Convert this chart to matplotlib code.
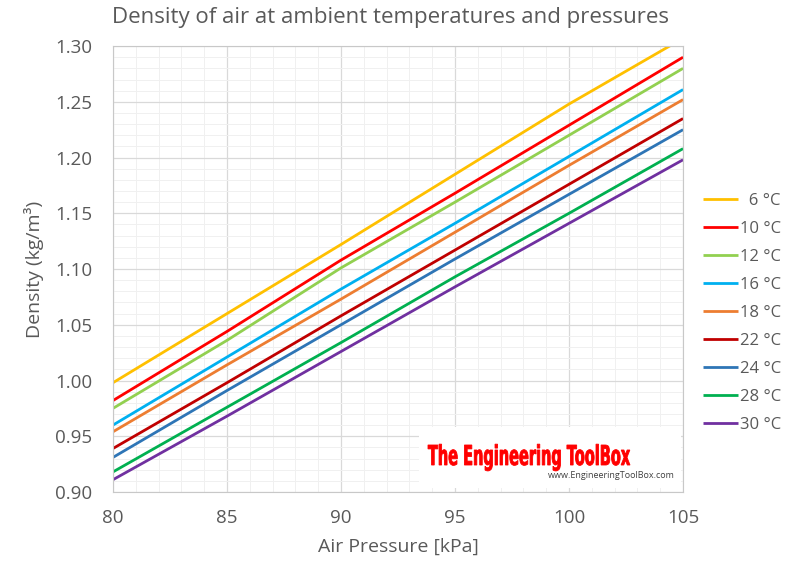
import numpy as np
import matplotlib.pyplot as plt
from matplotlib.ticker import MultipleLocator, FormatStrFormatter
from matplotlib.textpath import TextPath
from matplotlib.font_manager import FontProperties
from matplotlib.patches import PathPatch, Rectangle
from matplotlib.transforms import Affine2D, IdentityTransform

# air pressure [kPa]
pressure = [80, 85, 90, 95, 100, 105]

# density of air [kg/m3]
labels = ["  6 °C", "10 °C", "12 °C", "16 °C", "18 °C", "22 °C", "24 °C", "28 °C", "30 °C"]
d_6 = [0.998, 1.060, 1.122, 1.185, 1.248, 1.307]
d_10 = [0.982, 1.044, 1.108, 1.168, 1.229, 1.290]
d_12 = [0.975, 1.036, 1.101, 1.160, 1.220, 1.280]
d_16 = [0.960, 1.021, 1.082, 1.141, 1.201, 1.261]
d_18 = [0.954, 1.014, 1.073, 1.133, 1.193, 1.252]
d_22 = [0.939, 0.998, 1.058, 1.117, 1.176, 1.235]
d_24 = [0.931, 0.991, 1.050, 1.109, 1.167, 1.225]
d_28 = [0.918, 0.976, 1.034, 1.093, 1.150, 1.208]
d_30 = [0.911, 0.968, 1.026, 1.084, 1.141, 1.198]
series = [d_6, d_10, d_12, d_16, d_18, d_22, d_24, d_28, d_30]

colors = ["#FFC000", "#FF0000", "#92D050", "#00B0F0", "#ED7D31",
          "#C00000", "#2E75B6", "#00B050", "#7030A0"]

txt = "#595959"
plt.rcParams['font.family'] = ['Open Sans', 'DejaVu Sans']

W, H = 790, 562
fig = plt.figure(figsize=(W / 100, H / 100), dpi=100)
ax = fig.add_axes([0.143, 0.1246, 0.7216, 0.7934])

for s, c, l in zip(series, colors, labels):
    ax.plot(pressure, s, color=c, lw=2, label=l, solid_capstyle='butt')

ax.set_xlim(80, 105)
ax.set_ylim(0.90, 1.30)
ax.xaxis.set_major_locator(MultipleLocator(5))
ax.xaxis.set_minor_locator(MultipleLocator(1))
ax.yaxis.set_major_locator(MultipleLocator(0.05))
ax.yaxis.set_minor_locator(MultipleLocator(0.01))
ax.yaxis.set_major_formatter(FormatStrFormatter('%.2f'))
ax.grid(which='major', color='#D9D9D9', lw=0.9)
ax.grid(which='minor', color='#F0F0F0', lw=0.7)
ax.set_axisbelow(True)
ax.tick_params(which='both', length=0, labelsize=13.5, colors=txt)
ax.tick_params(axis='y', pad=15)
ax.tick_params(axis='x', pad=12)
for sp in ax.spines.values():
    sp.set_color('#C8C8C8')

ax.set_xlabel("Air Pressure [kPa]", fontsize=14, color=txt, labelpad=8)
ax.set_ylabel("Density (kg/m³)", fontsize=14, color=txt, labelpad=8)
fig.text(0.494, 0.968, "Density of air at ambient temperatures and pressures",
         ha='center', va='center', fontsize=16, color=txt)

fig.legend(loc='center left', bbox_to_anchor=(703 / W, 1 - 313 / H), frameon=False,
           fontsize=12, labelcolor=txt, handlelength=2.1, handletextpad=0.1,
           labelspacing=0.72, borderaxespad=0, borderpad=0)

# watermark: white box, condensed red logo text, url
ax.add_patch(Rectangle((0.537, 0.01), 0.46, 0.135, transform=ax.transAxes,
                       facecolor='white', edgecolor='none', zorder=1.5))
fp = FontProperties(family='DejaVu Sans', weight='bold')
logo = TextPath((0, 0), "The Engineering ToolBox", size=10, prop=fp)
cap = TextPath((0, 0), "T", size=10, prop=fp).get_extents()
ext = logo.get_extents()
sx = (630 - 428) / ext.width
sy = (465 - 445) / cap.height
tr = Affine2D().translate(-ext.x0, 0).scale(sx, sy).translate(428, H - 465)
fig.add_artist(PathPatch(tr.transform_path(logo), transform=IdentityTransform(),
                         facecolor='#FF0000', edgecolor='#FF0000', lw=0.6))
ax.text(0.985, 0.038, "www.EngineeringToolBox.com", transform=ax.transAxes,
        ha='right', va='center', fontsize=6.5, color='#404040', zorder=3)

fig.savefig("out.png", dpi=100)
